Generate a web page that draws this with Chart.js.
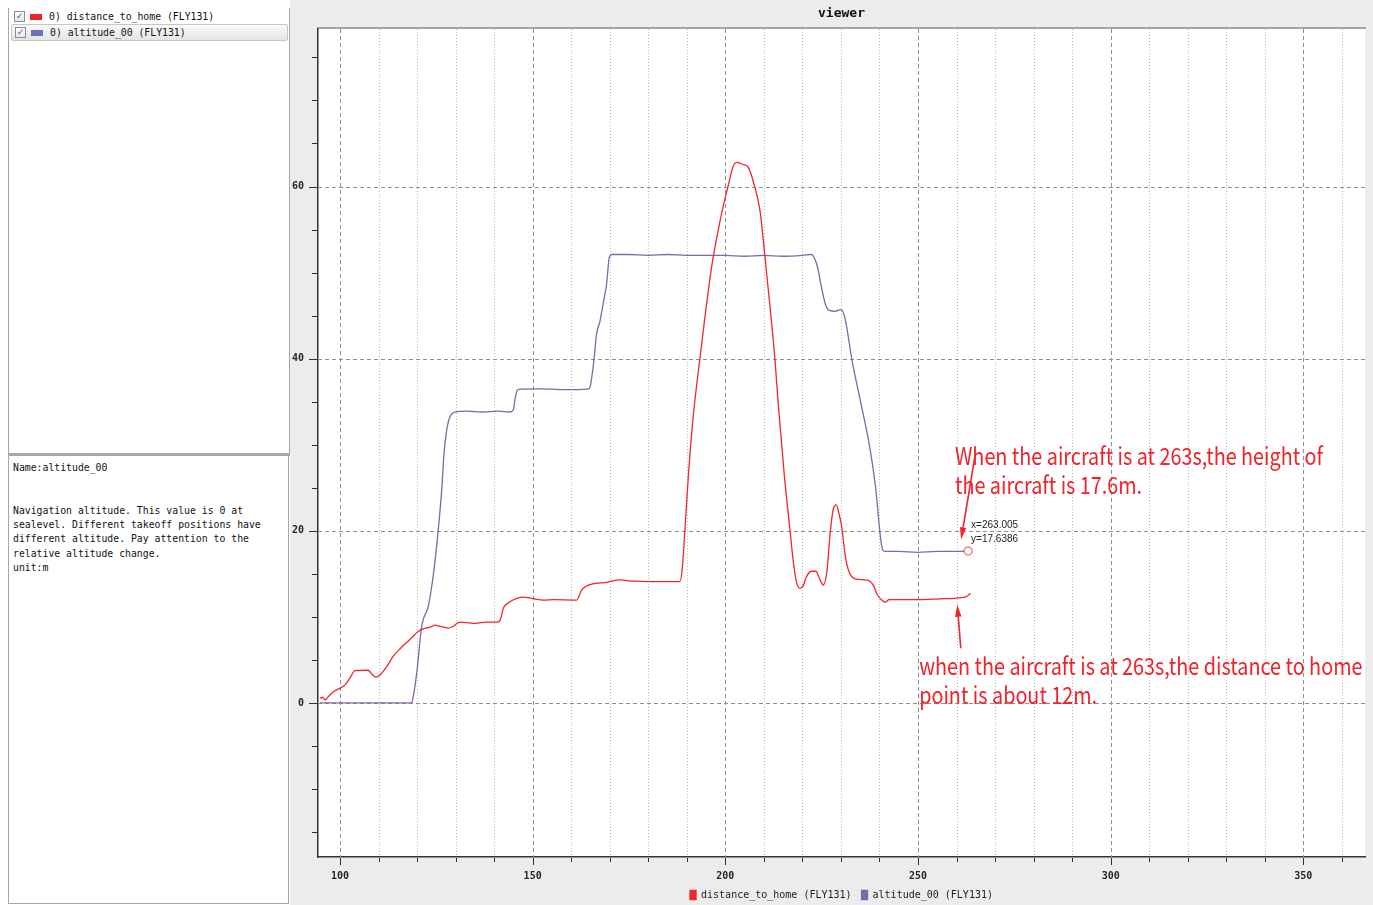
<!DOCTYPE html>
<html>
<head>
<meta charset="utf-8">
<title>viewer</title>
<script src="https://cdn.jsdelivr.net/npm/chart.js@4.4.1/dist/chart.umd.min.js"></script>
<style>
  html, body { margin: 0; padding: 0; }
  body { width: 1373px; height: 905px; position: relative; overflow: hidden; background: #fff;
         font-family: "DejaVu Sans Mono", "Liberation Mono", monospace; font-size: 9.8px; color: #111; }
  #list { position: absolute; left: 8px; top: 8px; width: 280px; height: 445px; background: #fff;
          border-left: 1px solid #a6a6a6; border-right: 1px solid #a6a6a6; }
  .row { position: absolute; left: 2px; width: 275px; height: 15px; line-height: 15px; white-space: pre; }
  .row.sel { background: linear-gradient(#fbfbfb, #e4e4e4); border: 1px solid #c6c6c6; border-radius: 2px; }
  .cb { position: absolute; left: 3px; top: 2px; width: 9px; height: 9px; border: 1px solid #8c8c8c;
        background: linear-gradient(#ffffff, #e6e6e6); color: #3b5fa8; font-size: 9px; line-height: 9px;
        text-align: center; font-family: "DejaVu Sans", sans-serif; }
  .sw { position: absolute; left: 19px; top: 5px; width: 12px; height: 6px; }
  .txt { position: absolute; left: 38px; top: 0; }
  #split { position: absolute; left: 8px; top: 453px; width: 282px; height: 3px; background: #a9a9a9; }
  #info { position: absolute; left: 8px; top: 456px; width: 275px; height: 442px; background: #fff;
          border: 1px solid #a6a6a6; border-top: none; padding: 5px 0 0 4px; line-height: 14.25px; white-space: pre; }
  #plotwrap { position: absolute; left: 290px; top: 0; width: 1083px; height: 905px; background: #ececec; }
  #plot { display: block; }
</style>
</head>
<body>
<div id="list">
  <div class="row" style="top:1px"><span class="cb">✓</span><span class="sw" style="background:#e8232b"></span><span class="txt">0) distance_to_home (FLY131)</span></div>
  <div class="row sel" style="top:16px"><span class="cb">✓</span><span class="sw" style="background:#6874b6"></span><span class="txt">0) altitude_00 (FLY131)</span></div>
</div>
<div id="split"></div>
<div id="info">Name:altitude_00


Navigation altitude. This value is 0 at
sealevel. Different takeoff positions have
different altitude. Pay attention to the
relative altitude change.
unit:m</div>
<div id="plotwrap"><canvas id="plot" width="1083" height="905"></canvas></div>

<script>
// ---- flight log channels, time in seconds ----
const distanceTime = [94.8, 95.5, 96.1, 97.0, 98.3, 100.0, 101.3, 102.6, 103.9, 107.3,
  108.2, 109.3, 110.4, 112.1, 113.8, 115.6, 118.2, 120.3, 121.6, 123.4,
  124.7, 126.0, 128.1, 129.4, 131.1, 133.7, 135.0, 138.1, 140.7, 141.5,
  142.4, 144.1, 145.9, 147.6, 149.8, 152.8, 155.4, 161.4, 162.7, 165.3,
  169.2, 172.7, 176.1, 180.5, 188.2, 188.8, 189.5, 190.5, 191.5, 192.5,
  193.4, 194.7, 196.5, 197.8, 199.5, 200.7, 202.0, 203.0, 204.7, 206.0,
  207.3, 209.0, 210.3, 211.6, 212.9, 213.8, 215.3, 216.8, 217.6, 218.5,
  219.4, 220.2, 221.0, 222.3, 223.5, 224.6, 225.4, 226.4, 227.2, 228.0,
  228.8, 229.5, 230.2, 231.0, 231.9, 233.7, 236.3, 237.6, 238.5, 239.4,
  240.5, 241.5, 242.5, 245.3, 250.5, 255.7, 262.2, 263.6];
const distanceValues = [0.55, 0.66, 0.35, 0.73, 1.3, 1.7, 2.1, 2.9, 3.75, 3.8,
  3.4, 3.0, 3.25, 4.2, 5.4, 6.3, 7.4, 8.3, 8.6, 8.8,
  9.05, 8.9, 8.7, 8.9, 9.4, 9.3, 9.25, 9.4, 9.4, 9.55,
  11.0, 11.75, 12.15, 12.3, 12.15, 11.95, 12.0, 11.95, 13.1, 13.8,
  14.0, 14.3, 14.15, 14.1, 14.1, 15.5, 20.0, 27.0, 32.5, 36.7,
  40.0, 44.8, 50.8, 54.1, 57.8, 60.0, 62.3, 62.8, 62.55, 62.2,
  60.5, 57.2, 51.8, 46.0, 39.8, 34.4, 26.5, 20.0, 16.6, 14.0,
  13.3, 13.6, 14.6, 15.3, 15.3, 14.3, 13.7, 15.4, 19.7, 22.5,
  23.0, 22.0, 20.5, 17.5, 15.5, 14.4, 14.3, 14.1, 13.6, 12.6,
  12.0, 11.7, 12.0, 12.0, 12.0, 12.1, 12.3, 12.7];

const altitudeTime = [94.8, 105.0, 118.6, 119.0, 119.9, 121.2, 122.9, 123.8, 124.7, 125.5,
  126.4, 127.0, 127.7, 128.5, 129.8, 133.0, 137.0, 141.0, 144.1, 145.0,
  145.4, 146.0, 146.7, 152.0, 158.0, 164.6, 164.9, 165.8, 166.6, 167.5,
  168.3, 169.2, 169.9, 170.5, 175.0, 180.0, 185.0, 190.0, 195.0, 200.0,
  205.0, 210.0, 215.0, 220.0, 222.4, 223.2, 224.0, 225.0, 226.0, 227.0,
  228.5, 230.0, 231.0, 233.0, 235.0, 237.6, 239.0, 240.2, 240.8, 241.5,
  245.0, 250.0, 255.0, 260.0, 263.005];
const altitudeValues = [0, 0, 0, 0.7, 3.4, 8.9, 11.2, 13.5, 16.6, 20.1,
  24.7, 29.0, 31.7, 33.2, 33.8, 33.9, 33.8, 33.9, 33.8, 34.1,
  35.2, 36.3, 36.45, 36.5, 36.4, 36.5, 36.7, 39.4, 42.9, 44.4,
  46.4, 48.7, 51.8, 52.1, 52.1, 52.0, 52.1, 52.0, 52.0, 52.0,
  51.9, 52.0, 51.9, 52.0, 52.1, 51.6, 50.5, 48.2, 46.3, 45.6,
  45.5, 45.7, 44.8, 39.5, 35.2, 29.4, 25.0, 19.5, 17.8, 17.6,
  17.6, 17.5, 17.6, 17.6, 17.6386];

const seriesNames = ['distance_to_home (FLY131)', 'altitude_00 (FLY131)'];

// axis ticks: minor step and the step that carries a label
const xTickStep = 10, xLabelStep = 50;
const yTickStep = 5, yLabelStep = 20;

// picked sample shown by the cursor readout
const cursorSample = { x: 263.005, y: 17.6386 };

// ---- drawing setup ----
const noteLines = [
  ['When the aircraft is at 263s,the height of', 'the aircraft is 17.6m.'],
  ['when the aircraft is at 263s,the distance to home', 'point is about 12m.']
];
const noteAnchors = [{ x: 259.6, y: 27.6 }, { x: 250.3, y: 3.25 }];
const arrowAnchors = [
  { from: { x: 264.9, y: 29.0 }, to: { x: 261.2, y: 19.0 } },
  { from: { x: 261.1, y: 6.35 }, to: { x: 260.2, y: 11.4 } }
];

const RED = '#f2262b';
const PURPLE = '#8466a6';
const NOTE_RED = '#f0222a';
const MONO = '"DejaVu Sans Mono", "Liberation Mono", monospace';

const toPoints = (xs, ys) => xs.map((x, i) => ({ x, y: ys[i] }));

// white plotting canvas with its frame
const canvasBg = {
  id: 'canvasBg',
  beforeDraw(chart) {
    const { ctx, chartArea: a } = chart;
    ctx.save();
    ctx.fillStyle = '#ffffff';
    ctx.fillRect(a.left, a.top, a.right - a.left, a.bottom - a.top);
    ctx.strokeStyle = '#a4a4a4';
    ctx.lineWidth = 2;
    ctx.beginPath();
    ctx.moveTo(a.left - 1, a.top - 1);
    ctx.lineTo(a.right + 1, a.top - 1);
    ctx.stroke();
    ctx.restore();
  }
};

// grid: dashed on labelled ticks, dotted on the minor x ticks; plus outside tick marks
const gridMarks = {
  id: 'gridMarks',
  beforeDatasetsDraw(chart) {
    const { ctx, chartArea: a, scales: { x, y } } = chart;
    ctx.save();
    ctx.lineWidth = 1;
    x.ticks.forEach(t => {
      const px = Math.round(x.getPixelForValue(t.value)) + 0.5;
      const major = t.value % xLabelStep === 0;
      ctx.strokeStyle = major ? '#8e8e8e' : '#bcbcbc';
      ctx.setLineDash(major ? [4, 3] : [1, 2]);
      ctx.beginPath();
      ctx.moveTo(px, a.top);
      ctx.lineTo(px, a.bottom);
      ctx.stroke();
    });
    y.ticks.forEach(t => {
      if (t.value % yLabelStep !== 0) return;
      const py = Math.round(y.getPixelForValue(t.value)) + 0.5;
      ctx.strokeStyle = '#8e8e8e';
      ctx.setLineDash([4, 3]);
      ctx.beginPath();
      ctx.moveTo(a.left, py);
      ctx.lineTo(a.right, py);
      ctx.stroke();
    });
    ctx.setLineDash([]);
    ctx.strokeStyle = '#2e2e2e';
    x.ticks.forEach(t => {
      const px = Math.round(x.getPixelForValue(t.value)) + 0.5;
      const len = t.value % xLabelStep === 0 ? 7 : 4;
      ctx.beginPath();
      ctx.moveTo(px, a.bottom + 1);
      ctx.lineTo(px, a.bottom + 1 + len);
      ctx.stroke();
    });
    y.ticks.forEach(t => {
      const py = Math.round(y.getPixelForValue(t.value)) + 0.5;
      const len = t.value % yLabelStep === 0 ? 8 : 5;
      ctx.beginPath();
      ctx.moveTo(a.left - 1, py);
      ctx.lineTo(a.left - 1 - len, py);
      ctx.stroke();
    });
    ctx.restore();
  }
};

function drawArrow(ctx, x0, y0, x1, y1) {
  const ang = Math.atan2(y1 - y0, x1 - x0);
  const head = 12, half = 3.2;
  const bx = x1 - head * Math.cos(ang), by = y1 - head * Math.sin(ang);
  ctx.beginPath();
  ctx.moveTo(x0, y0);
  ctx.lineTo(bx, by);
  ctx.stroke();
  ctx.beginPath();
  ctx.moveTo(x1, y1);
  ctx.lineTo(bx + half * Math.sin(ang), by - half * Math.cos(ang));
  ctx.lineTo(bx - half * Math.sin(ang), by + half * Math.cos(ang));
  ctx.closePath();
  ctx.fill();
}

// cursor readout and the red notes
const notesLayer = {
  id: 'notesLayer',
  afterDatasetsDraw(chart) {
    const { ctx, scales: { x, y } } = chart;
    ctx.save();
    const cx = x.getPixelForValue(cursorSample.x), cy = y.getPixelForValue(cursorSample.y);
    ctx.fillStyle = '#ffffff';
    ctx.strokeStyle = '#f06464';
    ctx.lineWidth = 1.2;
    ctx.beginPath();
    ctx.arc(cx, cy, 4, 0, Math.PI * 2);
    ctx.fill();
    ctx.stroke();
    ctx.fillStyle = '#222';
    ctx.font = '10px "Liberation Sans", sans-serif';
    ctx.textBaseline = 'middle';
    ctx.fillText('x=' + cursorSample.x.toFixed(3), cx + 3, cy - 26);
    ctx.fillText('y=' + cursorSample.y.toFixed(4), cx + 3, cy - 12);

    ctx.fillStyle = NOTE_RED;
    ctx.font = '24px "Noto Sans CJK SC", sans-serif';
    ctx.textBaseline = 'alphabetic';
    const squeeze = 0.825;
    noteLines.forEach((lines, i) => {
      const px = x.getPixelForValue(noteAnchors[i].x);
      const py = y.getPixelForValue(noteAnchors[i].y);
      lines.forEach((line, j) => {
        ctx.save();
        ctx.translate(px, py + j * 29);
        ctx.scale(squeeze, 1);
        ctx.fillText(line, 0, 0);
        ctx.restore();
      });
    });

    ctx.strokeStyle = NOTE_RED;
    ctx.lineWidth = 1.6;
    arrowAnchors.forEach(a => {
      drawArrow(ctx,
        x.getPixelForValue(a.from.x), y.getPixelForValue(a.from.y),
        x.getPixelForValue(a.to.x), y.getPixelForValue(a.to.y));
    });
    ctx.restore();
  }
};

const tickFont = { family: MONO, size: 10, weight: 'bold' };

new Chart(document.getElementById('plot'), {
  type: 'line',
  data: {
    datasets: [
      { label: seriesNames[0], data: toPoints(distanceTime, distanceValues),
        borderColor: RED, backgroundColor: RED, borderWidth: 1.3, pointRadius: 0,
        cubicInterpolationMode: 'monotone', fill: false },
      { label: seriesNames[1], data: toPoints(altitudeTime, altitudeValues),
        borderColor: PURPLE, backgroundColor: PURPLE, borderWidth: 1.3, pointRadius: 0,
        cubicInterpolationMode: 'monotone', fill: false }
    ]
  },
  options: {
    responsive: false,
    animation: false,
    devicePixelRatio: 1,
    events: [],
    layout: { padding: { left: 0, right: 8, top: 0, bottom: -5 } },
    plugins: {
      title: { display: true, text: 'viewer', fullSize: false, color: '#111',
               font: { family: MONO, size: 13, weight: 'bold' }, padding: { top: 6, bottom: 7.4 } },
      legend: { position: 'bottom', fullSize: false,
                labels: { font: { family: MONO, size: 10 }, color: '#222', boxWidth: 6, boxHeight: 9, padding: 10 } },
      tooltip: { enabled: false }
    },
    scales: {
      x: {
        type: 'linear', min: 94.3, max: 366,
        ticks: { stepSize: xTickStep, includeBounds: false, autoSkip: false, maxRotation: 0,
                 callback: v => (v % xLabelStep === 0 ? String(v) : ''), font: tickFont, color: '#262626', padding: 13 },
        grid: { display: false, drawTicks: false },
        border: { display: true, color: '#333', width: 1.5 },
        afterFit: s => { s.height = 23; }
      },
      y: {
        type: 'linear', min: -17.9, max: 78.3,
        ticks: { stepSize: yTickStep, includeBounds: false, autoSkip: false,
                 callback: v => (v % yLabelStep === 0 ? String(v) : ''), font: tickFont, color: '#262626', padding: 14 },
        grid: { display: false, drawTicks: false },
        border: { display: true, color: '#333', width: 1.5 },
        afterFit: s => { s.width = 28; }
      }
    }
  },
  plugins: [canvasBg, gridMarks, notesLayer]
});
</script>
</body>
</html>
